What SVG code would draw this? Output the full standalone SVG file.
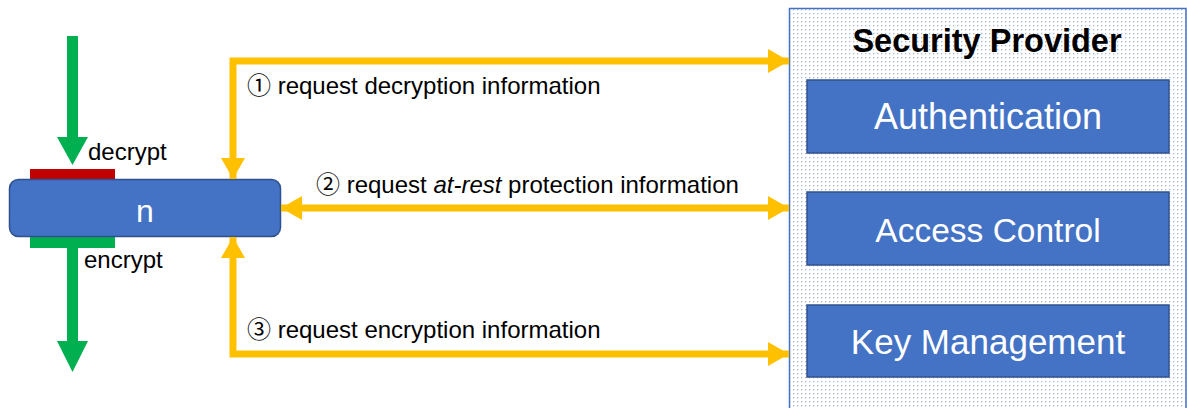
<svg xmlns="http://www.w3.org/2000/svg" width="1187" height="408" viewBox="0 0 1187 408">
<style>
  .lbl { font-family: "Liberation Sans", "Noto Sans CJK JP", sans-serif; font-size: 24px; fill: #000; }
  .wlbl { font-family: "Liberation Sans", sans-serif; font-size: 35px; fill: #fff; text-anchor: middle; }
  .title { font-family: "Liberation Sans", sans-serif; font-size: 32.5px; font-weight: bold; fill: #000; text-anchor: middle; }
  .box { fill: #4472C4; stroke: #2F528F; stroke-width: 1.5; }
  .conn { fill: none; stroke: #FFC000; stroke-width: 7; }
  .green { fill: #00B050; }
</style>
<defs>
  <pattern id="dots" width="4" height="4" patternUnits="userSpaceOnUse">
    <rect width="4" height="4" fill="#ffffff"/>
    <rect x="1" y="1" width="1.3" height="1.3" fill="#a9b8d8"/>
  </pattern>
  <marker id="ah" markerUnits="userSpaceOnUse" markerWidth="24" markerHeight="26" refX="21" refY="12" orient="auto-start-reverse" viewBox="0 0 24 24">
    <path d="M0,0 L21,12 L0,24 Z" fill="#FFC000"/>
  </marker>
</defs>

<g id="security-provider">
  <rect x="789.5" y="8.5" width="396.5" height="410" fill="url(#dots)" stroke="#4472C4" stroke-width="1.5"/>
  <text class="title" x="987" y="52">Security Provider</text>
</g>
<g id="authentication">
  <rect class="box" x="807" y="80" width="362" height="73"/>
  <text class="wlbl" x="988" y="129" style="font-size:36px">Authentication</text>
</g>
<g id="access-control">
  <rect class="box" x="807" y="192" width="362" height="73"/>
  <text class="wlbl" x="988" y="242" style="font-size:33.5px">Access Control</text>
</g>
<g id="key-management">
  <rect class="box" x="807" y="305" width="362" height="72"/>
  <text class="wlbl" x="988" y="354">Key Management</text>
</g>

<g id="node-n">
  <rect x="30" y="169" width="85" height="11" fill="#C00000"/>
  <rect x="30" y="236" width="85" height="12" fill="#00B050"/>
  <rect x="9.5" y="179.5" width="271" height="57" rx="9" fill="#4472C4" stroke="#2F528F" stroke-width="1.5"/>
  <text x="145" y="222" font-family="Liberation Sans, sans-serif" font-size="32" fill="#fff" text-anchor="middle">n</text>
</g>

<g id="decrypt-flow">
  <rect class="green" x="67" y="36" width="11" height="102"/>
  <path class="green" d="M57,137 L88,137 L72.5,165 Z"/>
  <text class="lbl" x="88" y="160">decrypt</text>
</g>
<g id="encrypt-flow">
  <rect class="green" x="67" y="247" width="11" height="95"/>
  <path class="green" d="M57,341 L88,341 L72.5,372 Z"/>
  <text class="lbl" x="84" y="268">encrypt</text>
</g>

<g id="connectors">
  <path class="conn" d="M233,179 L233,61 L789,61" marker-start="url(#ah)" marker-end="url(#ah)"/>
  <path class="conn" d="M281,208 L789,208" marker-start="url(#ah)" marker-end="url(#ah)"/>
  <path class="conn" d="M233,237 L233,354 L789,354" marker-start="url(#ah)" marker-end="url(#ah)"/>
</g>

<g id="labels">
  <text class="lbl" x="247" y="94">① request decryption information</text>
  <text class="lbl" x="316" y="193">② request <tspan font-style="italic">at-rest</tspan> protection information</text>
  <text class="lbl" x="247" y="338">③ request encryption information</text>
</g>
</svg>
